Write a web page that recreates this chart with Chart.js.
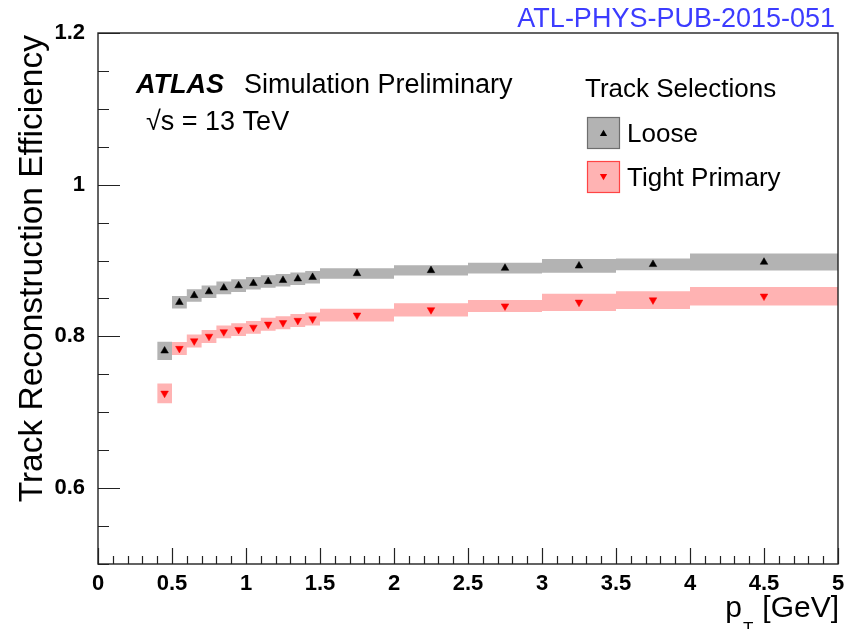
<!DOCTYPE html>
<html>
<head>
<meta charset="utf-8">
<script src="https://cdn.jsdelivr.net/npm/chart.js@4/dist/chart.umd.min.js"></script>
<style>
  html, body { margin: 0; padding: 0; background: #fff; }
  #wrap { position: relative; width: 859px; height: 629px; }
  canvas { display: block; }
</style>
</head>
<body>
<div id="wrap"><canvas id="c" width="859" height="629"></canvas></div>
<script>
// ---- data ----
const binEdges = [0.4, 0.5, 0.6, 0.7, 0.8, 0.9, 1.0, 1.1, 1.2, 1.3, 1.4, 1.5, 2.0, 2.5, 3.0, 3.5, 4.0, 5.0];
const looseEff = [0.781, 0.845, 0.854, 0.859, 0.864, 0.867, 0.870, 0.8725, 0.874, 0.876, 0.878, 0.883, 0.887, 0.890, 0.893, 0.895, 0.898];
const looseErr = [0.012, 0.0083, 0.0083, 0.0083, 0.0083, 0.0083, 0.0083, 0.0083, 0.0083, 0.0083, 0.0083, 0.007, 0.0068, 0.007, 0.0092, 0.0077, 0.0112];
const tightEff = [0.725, 0.784, 0.794, 0.800, 0.806, 0.809, 0.812, 0.816, 0.818, 0.821, 0.823, 0.828, 0.835, 0.840, 0.845, 0.848, 0.853];
const tightErr = [0.013, 0.0085, 0.0085, 0.0085, 0.0085, 0.0085, 0.0085, 0.0085, 0.0085, 0.0085, 0.0085, 0.0084, 0.0086, 0.0079, 0.0114, 0.0117, 0.0121];
const xTickValues = [0, 0.5, 1, 1.5, 2, 2.5, 3, 3.5, 4, 4.5, 5];
const xTickLabels = ['0', '0.5', '1', '1.5', '2', '2.5', '3', '3.5', '4', '4.5', '5'];
const yTickValues = [0.6, 0.8, 1.0, 1.2];
const yTickLabels = ['0.6', '0.8', '1', '1.2'];
const seriesNames = ['Loose', 'Tight Primary'];
const legendTitle = 'Track Selections';
const xTitleMain = 'p';
const xTitleSub = 'T';
const xTitleUnit = '[GeV]';
const yTitle = 'Track Reconstruction Efficiency';
const refLabel = 'ATL-PHYS-PUB-2015-051';

// ---- derived point lists ----
function centers(edges) { const c = []; for (let i = 0; i < edges.length - 1; i++) c.push((edges[i] + edges[i + 1]) / 2); return c; }
function markerPts(vals) { const c = centers(binEdges); return vals.map((v, i) => ({ x: c[i], y: v })); }
function bandPts(vals, errs, sign) {
  const pts = [];
  vals.forEach((v, i) => {
    const y = v + sign * errs[i];
    pts.push({ x: binEdges[i], y: y });
    pts.push({ x: binEdges[i + 1], y: y });
  });
  return pts;
}

const GRAY = '#b3b3b3';
const PINK = '#ffb3b3';
const FONT = '"Liberation Sans", Arial, Helvetica, sans-serif';

const decorPlugin = {
  id: 'decor',
  afterDraw(chart) {
    const ctx = chart.ctx;
    const xs = chart.scales.x, ys = chart.scales.y;
    const a = chart.chartArea;
    ctx.save();
    // ticks (inside the frame)
    ctx.strokeStyle = '#222';
    ctx.lineWidth = 1.2;
    ctx.beginPath();
    for (let k = 0; k <= 50; k++) {
      const v = k / 10;
      const px = Math.round(xs.getPixelForValue(v)) + 0.5;
      const major = k % 5 === 0;
      ctx.moveTo(px, a.bottom);
      ctx.lineTo(px, a.bottom - (major ? 16 : 8));
    }
    for (let k = 10; k <= 24; k++) {
      const v = k * 0.05;
      const py = Math.round(ys.getPixelForValue(v)) + 0.5;
      const major = k % 4 === 0;
      ctx.moveTo(a.left, py);
      ctx.lineTo(a.left + (major ? 22 : 11), py);
    }
    ctx.stroke();
    // frame
    ctx.lineWidth = 1.4;
    ctx.strokeStyle = '#222';
    ctx.strokeRect(a.left, a.top, a.right - a.left, a.bottom - a.top);

    // axis titles
    ctx.fillStyle = '#000';
    ctx.font = '33.5px ' + FONT;
    ctx.save();
    ctx.translate(42, a.top + 2);
    ctx.rotate(-Math.PI / 2);
    ctx.textAlign = 'right';
    ctx.textBaseline = 'alphabetic';
    ctx.fillText(yTitle, 0, 0);
    ctx.restore();

    ctx.textBaseline = 'alphabetic';
    ctx.font = '30px ' + FONT;
    ctx.textAlign = 'right';
    ctx.fillText(xTitleUnit, 839, 617);
    const wUnit = ctx.measureText(xTitleUnit).width;
    ctx.font = '17px ' + FONT;
    const tX = 839 - wUnit - 9;
    ctx.fillText(xTitleSub, tX, 634);
    const wT = ctx.measureText(xTitleSub).width;
    ctx.font = '30px ' + FONT;
    ctx.fillText(xTitleMain, tX - wT - 1, 617);

    // top-right reference label
    ctx.fillStyle = '#3c3cff';
    ctx.font = '27px ' + FONT;
    ctx.textAlign = 'right';
    ctx.fillText(refLabel, 835, 27);

    // ATLAS label
    ctx.textAlign = 'left';
    ctx.fillStyle = '#000';
    ctx.font = 'italic bold 27px ' + FONT;
    ctx.fillText('ATLAS', 136, 93);
    ctx.font = '27px ' + FONT;
    ctx.fillText('Simulation Preliminary', 244, 93);
    ctx.fillText('\u221As = 13 TeV', 146, 130);

    // legend
    ctx.font = '26px ' + FONT;
    ctx.fillText(legendTitle, 585, 97);
    ctx.fillText(seriesNames[0], 627, 142);
    ctx.fillText(seriesNames[1], 627, 186);
    ctx.lineWidth = 1.2;
    ctx.fillStyle = GRAY; ctx.strokeStyle = '#6e6e6e';
    ctx.fillRect(587.5, 117.5, 32, 31); ctx.strokeRect(587.5, 117.5, 32, 31);
    ctx.fillStyle = PINK; ctx.strokeStyle = '#ff4444';
    ctx.fillRect(587.5, 161.5, 32, 31); ctx.strokeRect(587.5, 161.5, 32, 31);
    // legend markers
    const tri = (cx, cy, r, up, col) => {
      ctx.fillStyle = col;
      ctx.beginPath();
      const s = up ? -1 : 1;
      ctx.moveTo(cx, cy + s * r);
      ctx.lineTo(cx - r * 0.866, cy - s * r / 2);
      ctx.lineTo(cx + r * 0.866, cy - s * r / 2);
      ctx.closePath();
      ctx.fill();
    };
    tri(603.5, 134, 4.2, true, '#000');
    tri(603.5, 176, 4.2, false, '#ff0000');
    ctx.restore();
  }
};

new Chart(document.getElementById('c'), {
  type: 'line',
  data: {
    datasets: [
      { label: seriesNames[0], data: markerPts(looseEff), showLine: false, pointStyle: 'triangle',
        pointRadius: 4.4, pointHoverRadius: 4.4, pointBackgroundColor: '#000', pointBorderColor: '#000', pointBorderWidth: 0.5, order: 0 },
      { label: seriesNames[1], data: markerPts(tightEff), showLine: false, pointStyle: 'triangle', pointRotation: 180,
        pointRadius: 4.4, pointHoverRadius: 4.4, pointBackgroundColor: '#ff0000', pointBorderColor: '#ff0000', pointBorderWidth: 0.5, order: 0 },
      { label: 'loose-hi', data: bandPts(looseEff, looseErr, 1), borderColor: 'rgba(0,0,0,0)', borderWidth: 0.01, pointRadius: 0, fill: false, tension: 0, order: 5 },
      { label: 'loose-lo', data: bandPts(looseEff, looseErr, -1), borderColor: 'rgba(0,0,0,0)', borderWidth: 0.01, pointRadius: 0, fill: 2, backgroundColor: GRAY, tension: 0, order: 5 },
      { label: 'tight-hi', data: bandPts(tightEff, tightErr, 1), borderColor: 'rgba(0,0,0,0)', borderWidth: 0.01, pointRadius: 0, fill: false, tension: 0, order: 6 },
      { label: 'tight-lo', data: bandPts(tightEff, tightErr, -1), borderColor: 'rgba(0,0,0,0)', borderWidth: 0.01, pointRadius: 0, fill: 4, backgroundColor: PINK, tension: 0, order: 6 }
    ]
  },
  options: {
    responsive: false,
    animation: false,
    devicePixelRatio: 1,
    layout: { padding: { left: 0, right: 21, top: 33, bottom: 0 } },
    plugins: { legend: { display: false }, tooltip: { enabled: false } },
    scales: {
      x: {
        type: 'linear', min: 0, max: 5,
        grid: { display: false }, border: { display: false },
        afterBuildTicks: s => { s.ticks = xTickValues.map(v => ({ value: v })); },
        afterFit: s => { s.height = 65; },
        ticks: {
          autoSkip: false, maxRotation: 0, padding: -1, color: '#000',
          font: { family: FONT, size: 22, weight: 'bold' },
          callback: (v) => { const i = xTickValues.findIndex(t => Math.abs(t - v) < 1e-9); return i >= 0 ? xTickLabels[i] : ''; }
        }
      },
      y: {
        type: 'linear', min: 0.5, max: 1.2,
        grid: { display: false }, border: { display: false },
        afterBuildTicks: s => { s.ticks = yTickValues.map(v => ({ value: v })); },
        afterFit: s => { s.width = 98; },
        ticks: {
          autoSkip: false, padding: 5, color: '#000',
          font: { family: FONT, size: 22, weight: 'bold' },
          callback: (v) => { const i = yTickValues.findIndex(t => Math.abs(t - v) < 1e-9); return i >= 0 ? yTickLabels[i] : ''; }
        }
      }
    }
  },
  plugins: [decorPlugin]
});
</script>
</body>
</html>
